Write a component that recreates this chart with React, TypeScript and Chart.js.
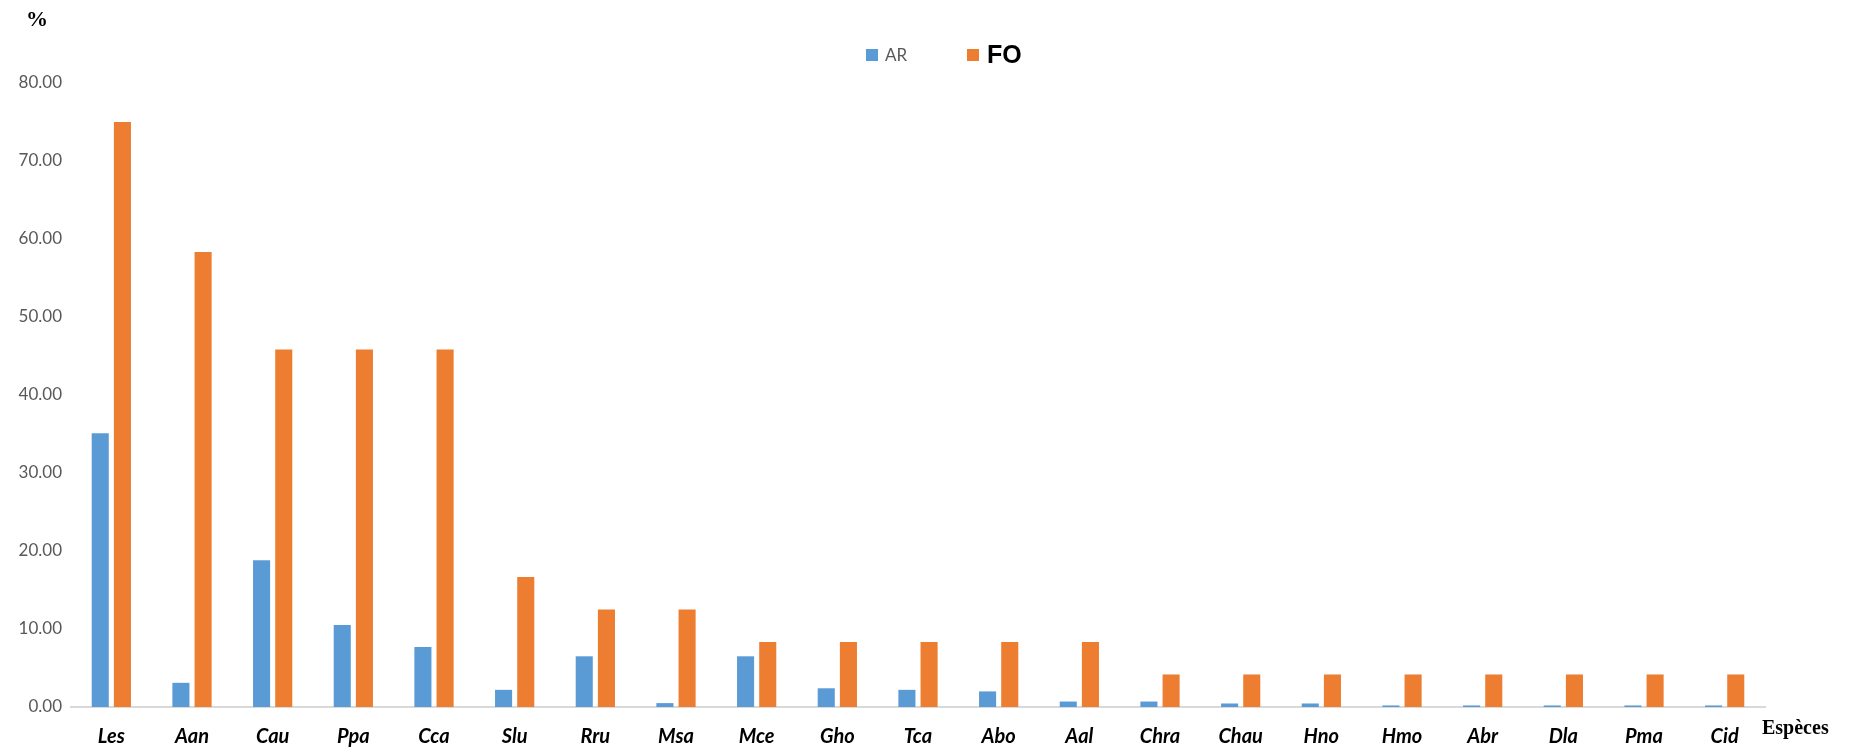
import React, { useEffect, useRef } from "react";
import { Chart, registerables } from "chart.js";

Chart.register(...registerables);

const categories = ["Les", "Aan", "Cau", "Ppa", "Cca", "Slu", "Rru", "Msa", "Mce", "Gho", "Tca", "Abo", "Aal", "Chra", "Chau", "Hno", "Hmo", "Abr", "Dla", "Pma", "Cid"];
const arValues = [35.1, 3.1, 18.8, 10.5, 7.7, 2.2, 6.5, 0.5, 6.5, 2.4, 2.2, 2.0, 0.7, 0.7, 0.45, 0.45, 0.2, 0.2, 0.2, 0.2, 0.2];
const foValues = [75.0, 58.33, 45.83, 45.83, 45.83, 16.67, 12.5, 12.5, 8.33, 8.33, 8.33, 8.33, 8.33, 4.17, 4.17, 4.17, 4.17, 4.17, 4.17, 4.17, 4.17];
const seriesNames = ["AR", "FO"];
const yTicks = [0, 10, 20, 30, 40, 50, 60, 70, 80];
const xAxisTitle = "Espèces";
const yAxisTitle = "%";

const BLUE = "#5B9BD5";
const ORANGE = "#ED7D31";

const overlayPlugin = {
  id: "overlay",
  afterDraw(chart: any) {
    const ctx = chart.ctx;
    ctx.save();
    // y axis title
    ctx.fillStyle = "#000";
    ctx.font = "bold 22px 'Liberation Serif'";
    ctx.textAlign = "center";
    ctx.textBaseline = "middle";
    ctx.fillText(yAxisTitle, 37, 20);
    // x axis title
    ctx.font = "bold 20px 'Liberation Serif'";
    ctx.textAlign = "left";
    ctx.fillText(xAxisTitle, 1762, 729);
    // legend
    const ds = chart.data.datasets;
    ctx.fillStyle = ds[0].backgroundColor;
    ctx.fillRect(866, 49, 12, 12);
    ctx.fillStyle = "#595959";
    ctx.font = "17px Lato";
    ctx.textBaseline = "middle";
    ctx.fillText(seriesNames[0], 885, 56);
    ctx.fillStyle = ds[1].backgroundColor;
    ctx.fillRect(967, 49, 12, 12);
    ctx.fillStyle = "#000";
    ctx.font = "bold 25px 'Liberation Sans'";
    ctx.fillText(seriesNames[1], 987, 56);
    ctx.restore();
  },
};

export default function App() {
  const ref = useRef<HTMLCanvasElement | null>(null);
  useEffect(() => {
    document.body.style.margin = "0";
    document.body.style.overflow = "hidden";
    const chart = new Chart(ref.current!, {
      type: "bar",
      data: {
        labels: categories,
        datasets: [
          { label: seriesNames[0], data: arValues, backgroundColor: BLUE, categoryPercentage: 0.55, barPercentage: 0.77 },
          { label: seriesNames[1], data: foValues, backgroundColor: ORANGE, categoryPercentage: 0.55, barPercentage: 0.77 },
        ],
      },
      options: {
        animation: false,
        responsive: true,
        maintainAspectRatio: false,
        layout: { padding: { top: 83, right: 88, left: 0, bottom: 0 } },
        plugins: { legend: { display: false }, tooltip: { enabled: false } },
        scales: {
          x: {
            grid: { display: false, drawTicks: false },
            border: { display: true, color: "#D9D9D9", width: 2 },
            ticks: {
              color: "#000",
              font: { family: "Lato", size: 20, style: "italic", weight: "bold" },
              padding: 18,
              maxRotation: 0,
              autoSkip: false,
            },
            afterFit: (s: any) => { s.height = 44; },
          },
          y: {
            min: 0,
            max: 80,
            grid: { display: false, drawTicks: false },
            border: { display: false },
            afterBuildTicks: (s: any) => { s.ticks = yTicks.map((v) => ({ value: v })); },
            ticks: {
              color: "#595959",
              font: { family: "Lato", size: 17 },
              padding: 9,
              callback: (v: any) => Number(v).toFixed(2),
            },
            afterFit: (s: any) => { s.width = 71; },
          },
        },
      },
      plugins: [overlayPlugin],
    });
    return () => chart.destroy();
  }, []);
  return (
    <div style={{ width: "1853px", height: "751px", position: "relative" }}>
      <canvas ref={ref} />
    </div>
  );
}
